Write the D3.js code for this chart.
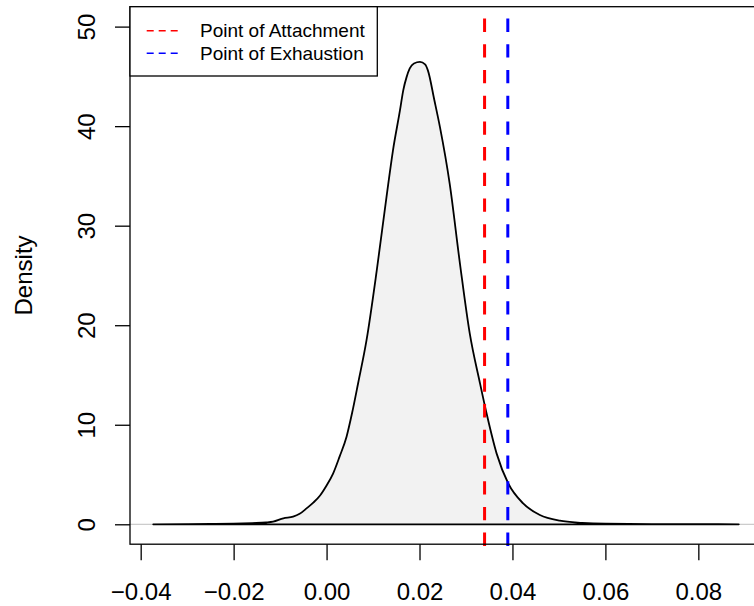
<!DOCTYPE html>
<html>
<head>
<meta charset="utf-8">
<script src="https://cdn.jsdelivr.net/npm/d3@7"></script>
<style>
  body { margin: 0; background: #fff; }
  svg { display: block; font-family: "Liberation Sans", Arial, Helvetica, sans-serif; }
</style>
</head>
<body>
<div id="chart"></div>
<script>
// density estimate
const densX = [-0.0373, -0.030, -0.025, -0.020, -0.016, -0.013, -0.0115, -0.0093, -0.0072, -0.0058,
               -0.0043, -0.0028, -0.0014, 0.0000, 0.0014, 0.0028, 0.0043, 0.0055, 0.0068, 0.0086,
               0.0108, 0.0129, 0.0143, 0.0158, 0.0165, 0.0172, 0.0179, 0.0188, 0.0201, 0.0212,
               0.0218, 0.0232, 0.0244, 0.0265, 0.0287, 0.0308, 0.0330, 0.0345, 0.0366, 0.0391,
               0.0423, 0.0459, 0.0502, 0.055, 0.060, 0.070, 0.080, 0.0887];
const densY = [0.00, 0.02, 0.04, 0.07, 0.12, 0.18, 0.26, 0.60, 0.76, 1.05,
               1.6, 2.2, 2.9, 3.9, 5.1, 6.8, 8.8, 11.2, 14.2, 18.5,
               25.5, 32.9, 37.6, 41.6, 43.6, 44.9, 45.8, 46.3, 46.45, 46.2,
               45.6, 42.6, 39.9, 34.2, 26.2, 19.2, 14.2, 11.0, 7.1, 4.1,
               2.1, 0.93, 0.36, 0.15, 0.06, 0.02, 0.01, 0.00];

const xTicks = [-0.04, -0.02, 0.00, 0.02, 0.04, 0.06, 0.08];
const yTicks = [0, 10, 20, 30, 40, 50];

const markerNames = ["Point of Attachment", "Point of Exhaustion"];
const markerValues = [0.034, 0.039];
const markerColors = ["#ff0000", "#0000ff"];

const width = 754, height = 606;
const plotLeft = 130, plotTop = 6.7, plotBottom = 544.2, plotRight = 762;

const svg = d3.select("#chart").append("svg")
    .attr("width", width)
    .attr("height", height);

const x = d3.scaleLinear().domain([-0.0423, 0.0937]).range([plotLeft, plotRight]);
const y = d3.scaleLinear().domain([-2, 52]).range([plotBottom, plotTop]);

// grey zero line
svg.append("line")
    .attr("x1", plotLeft).attr("x2", plotRight)
    .attr("y1", y(0)).attr("y2", y(0))
    .attr("stroke", "#bebebe").attr("stroke-width", 1);

// density polygon
const pts = densX.map((d, i) => [d, densY[i]]);
const area = d3.line()
    .x(d => x(d[0]))
    .y(d => y(d[1]))
    .curve(d3.curveMonotoneX);
svg.append("path")
    .attr("d", area(pts) + "Z")
    .attr("fill", "#f2f2f2")
    .attr("stroke", "#000")
    .attr("stroke-width", 1.8)
    .attr("stroke-linejoin", "round");

// vertical dashed markers
svg.selectAll(".marker")
    .data(markerValues)
    .enter().append("line")
    .attr("class", "marker")
    .attr("x1", d => x(d)).attr("x2", d => x(d))
    .attr("y1", plotBottom + 1.7).attr("y2", plotTop)
    .attr("stroke", (d, i) => markerColors[i])
    .attr("stroke-width", 3)
    .attr("stroke-dasharray", "13.3,12.4");

// axes
const fmt = d3.format(".2f");
const xAxis = svg.append("g")
    .attr("transform", `translate(0,${plotBottom})`)
    .call(d3.axisBottom(x).tickValues(xTicks).tickFormat(fmt).tickSize(16).tickPadding(23));
xAxis.select(".domain").remove();
xAxis.selectAll("line").attr("stroke", "#000").attr("stroke-width", 1.3);
xAxis.selectAll("text").attr("font-size", 24).attr("font-family", null).attr("fill", "#000");

const yAxis = svg.append("g")
    .attr("transform", `translate(${plotLeft},0)`)
    .call(d3.axisLeft(y).tickValues(yTicks).tickSize(15));
yAxis.select(".domain").remove();
yAxis.selectAll("line").attr("stroke", "#000").attr("stroke-width", 1.3);
yAxis.selectAll("text")
    .attr("x", null).attr("dy", null)
    .attr("text-anchor", "middle")
    .attr("transform", "translate(-35,0) rotate(-90)")
    .attr("font-size", 24).attr("font-family", null).attr("fill", "#000");

// box
svg.append("rect")
    .attr("x", plotLeft).attr("y", plotTop)
    .attr("width", plotRight - plotLeft).attr("height", plotBottom - plotTop)
    .attr("fill", "none").attr("stroke", "#000").attr("stroke-width", 1.3);

// y label
svg.append("text")
    .attr("transform", `translate(31.7,${(plotTop + plotBottom) / 2}) rotate(-90)`)
    .attr("text-anchor", "middle")
    .attr("font-size", 24)
    .text("Density");

// legend
const legend = svg.append("g");
legend.append("rect")
    .attr("x", plotLeft).attr("y", plotTop)
    .attr("width", 247.3).attr("height", 69.3)
    .attr("fill", "#fff").attr("stroke", "#000").attr("stroke-width", 1.3);
const rows = legend.selectAll(".row")
    .data(markerNames)
    .enter().append("g")
    .attr("transform", (d, i) => `translate(0,${30.7 + i * 22.6})`);
rows.append("line")
    .attr("x1", 146.7).attr("x2", 180)
    .attr("stroke", (d, i) => markerColors[i])
    .attr("stroke-width", 1.5)
    .attr("stroke-dasharray", "7,5");
rows.append("text")
    .attr("x", 200)
    .attr("dy", "0.35em")
    .attr("font-size", 19)
    .text(d => d);
</script>
</body>
</html>
